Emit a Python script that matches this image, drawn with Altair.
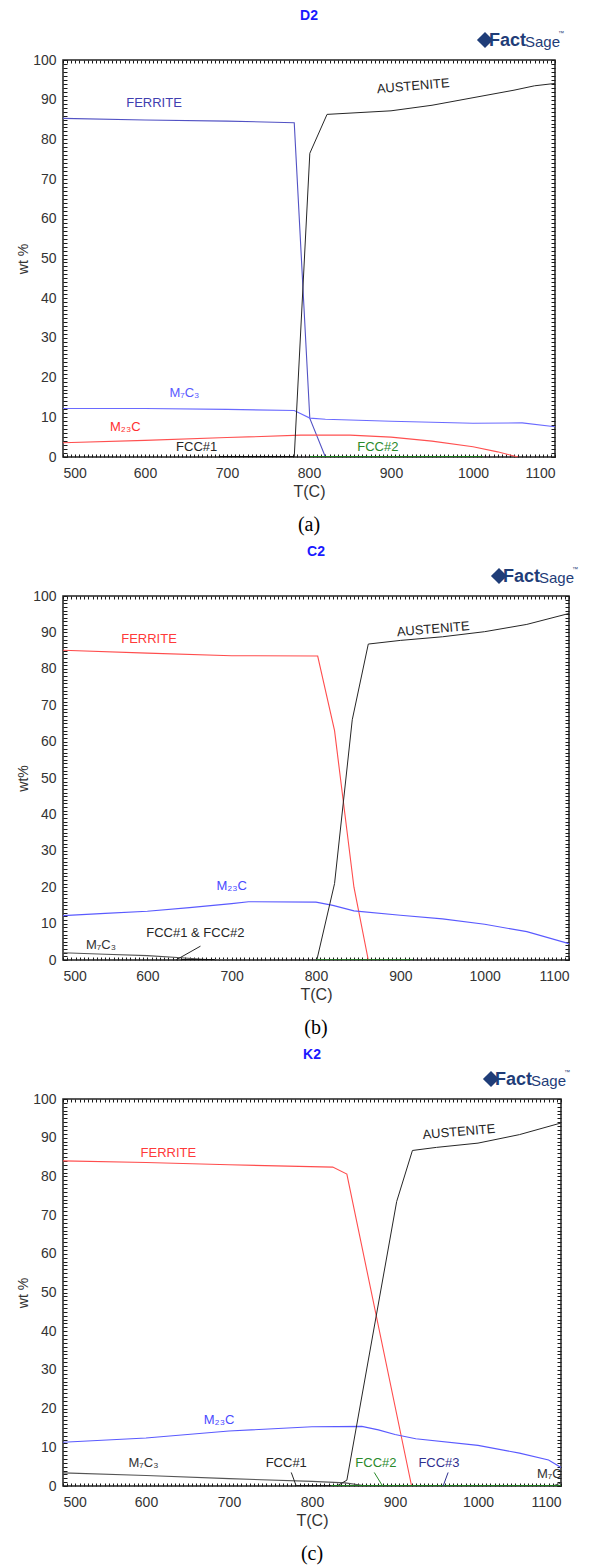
import altair as alt
import pandas as pd

FONT = "Liberation Sans"
X_DOMAIN = [500, 1100]
Y_DOMAIN = [0, 100]
x_tick_values = list(range(500, 1101, 5))     # frame ticks every 5 C, labelled every 100
y_tick_values = list(range(0, 101, 1))        # frame ticks every 1 wt%, labelled every 10

# ---------------- Panel (a) D2 ----------------
a_ferrite_T = [500, 600, 700, 782, 801, 820]
a_ferrite_wt = [85.3, 84.9, 84.6, 84.2, 9.7, 0.0]
a_aust_T = [782, 801, 822, 900, 950, 1000, 1050, 1075, 1100]
a_aust_wt = [0.0, 76.5, 86.3, 87.2, 88.6, 90.5, 92.4, 93.5, 94.1]
a_m7c3_T = [500, 600, 700, 782, 801, 820, 900, 1000, 1060, 1100]
a_m7c3_wt = [12.2, 12.2, 12.0, 11.7, 9.8, 9.5, 9.0, 8.5, 8.6, 7.6]
a_m23c_T = [500, 600, 700, 790, 850, 900, 950, 1000, 1030, 1055]
a_m23c_wt = [3.6, 4.2, 4.9, 5.5, 5.5, 5.0, 4.0, 2.6, 1.3, 0.0]
a_fcc1_T = [690, 782]
a_fcc1_wt = [0.0, 0.0]
a_fcc2_T = [801, 1012]
a_fcc2_wt = [0.0, 0.0]

# ---------------- Panel (b) C2 ----------------
b_ferrite_T = [500, 600, 700, 802, 822, 845, 862]
b_ferrite_wt = [85.1, 84.3, 83.6, 83.5, 63.0, 20.0, 0.0]
b_aust_T = [801, 822, 843, 862, 900, 950, 1000, 1050, 1100]
b_aust_wt = [0.0, 21.0, 66.0, 86.8, 87.8, 88.8, 90.2, 92.2, 95.2]
b_m23c_T = [500, 550, 600, 650, 700, 720, 800, 820, 845, 900, 950, 1000, 1050, 1100]
b_m23c_wt = [12.2, 12.8, 13.4, 14.4, 15.5, 16.0, 15.9, 15.0, 13.5, 12.3, 11.3, 9.8, 7.8, 4.5]
b_m7c3_T = [500, 550, 600, 640, 670, 700]
b_m7c3_wt = [2.0, 1.6, 1.2, 0.6, 0.1, 0.0]
b_fcc1_T = [640, 680]
b_fcc1_wt = [0.0, 0.0]
b_fcc2_T = [800, 915]
b_fcc2_wt = [0.0, 0.0]

# ---------------- Panel (c) K2 ----------------
c_ferrite_T = [500, 600, 700, 825, 842, 920]
c_ferrite_wt = [84.0, 83.6, 83.0, 82.4, 80.6, 0.0]
c_aust_T = [830, 842, 902, 921, 950, 1000, 1050, 1100]
c_aust_wt = [0.0, 1.5, 73.5, 86.7, 87.5, 88.6, 90.8, 93.8]
c_m23c_T = [500, 600, 700, 800, 860, 880, 900, 925, 1000, 1050, 1085, 1100]
c_m23c_wt = [11.3, 12.4, 14.2, 15.3, 15.4, 14.5, 13.3, 12.2, 10.5, 8.5, 6.7, 4.8]
c_m7c3_T = [500, 600, 700, 800, 840, 860, 870]
c_m7c3_wt = [3.4, 2.7, 1.9, 1.2, 0.8, 0.2, 0.0]
c_m7c3b_T = [1090, 1100]
c_m7c3b_wt = [0.0, 0.8]
c_fcc1_T = [780, 830]
c_fcc1_wt = [0.0, 0.0]
c_fcc2_T = [823, 1100]
c_fcc2_wt = [0.0, 0.0]

# labels: (text, T, wt)
a_labels = [("FERRITE", 611, 89.2), ("M₇C₃", 648, 16.0), ("M₂₃C", 576, 7.5),
            ("FCC#1", 663, 2.6), ("FCC#2", 884, 2.6)]
a_rot = [("AUSTENITE", 927, 93.4)]
b_labels = [("FERRITE", 602, 88.2), ("M₂₃C", 700, 20.3), ("M₇C₃", 545, 4.0),
            ("FCC#1 & FCC#2", 657, 7.4)]
b_rot = [("AUSTENITE", 939, 90.9)]
c_labels = [("FERRITE", 627, 86.0), ("M₂₃C", 688, 17.0), ("M₇C₃", 597, 6.0),
            ("FCC#1", 769, 6.0), ("FCC#2", 877, 6.0), ("FCC#3", 953, 6.0)]
c_rot = [("AUSTENITE", 977, 91.5)]
c_clip_labels = [("M₇C₃", 1089, 3.0)]

# leaders: (T, wt, T2, wt2)
b_leaders = [(663, 3.8, 634, 0.0)]
c_leaders = [(775, 3.5, 781, 0.0), (875, 3.5, 885, 0.0), (964, 3.5, 958, 0.0)]

BLACK = "#262626"
panels = [
    dict(title="D2", caption="(a)", ytitle="wt %", w=492, h=397,
         series=[("FERRITE", a_ferrite_T, a_ferrite_wt, "#5252c4", 1.1),
                 ("M7C3", a_m7c3_T, a_m7c3_wt, "#6a6aff", 1.1),
                 ("M23C", a_m23c_T, a_m23c_wt, "#ff5050", 1.1),
                 ("AUSTENITE", a_aust_T, a_aust_wt, BLACK, 1.0),
                 ("FCC1", a_fcc1_T, a_fcc1_wt, "#111111", 2.0),
                 ("FCC2", a_fcc2_T, a_fcc2_wt, "#1e7a1e", 2.0)],
         labels=a_labels, label_colors=["#4040b0", "#5a5aff", "#ff3030", BLACK, "#2a8a2a"],
         rot=a_rot, leaders=[], leader_colors=[], clip_labels=[]),
    dict(title="C2", caption="(b)", ytitle="wt%", w=506, h=364,
         series=[("FERRITE", b_ferrite_T, b_ferrite_wt, "#ff4d4d", 1.1),
                 ("M23C", b_m23c_T, b_m23c_wt, "#5a5aff", 1.1),
                 ("M7C3", b_m7c3_T, b_m7c3_wt, "#555555", 1.1),
                 ("AUSTENITE", b_aust_T, b_aust_wt, BLACK, 1.0),
                 ("FCC1", b_fcc1_T, b_fcc1_wt, "#111111", 2.0),
                 ("FCC2", b_fcc2_T, b_fcc2_wt, "#1e7a1e", 1.5)],
         labels=b_labels, label_colors=["#ff3a3a", "#4a4aff", "#333333", BLACK],
         rot=b_rot, leaders=b_leaders, leader_colors=[BLACK], clip_labels=[]),
    dict(title="K2", caption="(c)", ytitle="wt %", w=498, h=387,
         series=[("FERRITE", c_ferrite_T, c_ferrite_wt, "#ff4d4d", 1.1),
                 ("M23C", c_m23c_T, c_m23c_wt, "#5a5aff", 1.1),
                 ("M7C3", c_m7c3_T, c_m7c3_wt, "#555555", 1.1),
                 ("M7C3b", c_m7c3b_T, c_m7c3b_wt, "#555555", 1.1),
                 ("AUSTENITE", c_aust_T, c_aust_wt, BLACK, 1.0),
                 ("FCC1", c_fcc1_T, c_fcc1_wt, "#111111", 1.5),
                 ("FCC2", c_fcc2_T, c_fcc2_wt, "#1e7a1e", 1.8)],
         labels=c_labels, label_colors=["#ff3a3a", "#4a4aff", "#333333", BLACK, "#2a8a2a", "#303090"],
         rot=c_rot, leaders=c_leaders, leader_colors=[BLACK, "#2a8a2a", "#303090"],
         clip_labels=c_clip_labels),
]

XS = alt.Scale(domain=X_DOMAIN, nice=False, zero=False)
YS = alt.Scale(domain=Y_DOMAIN, nice=False)
TICK_COMMON = dict(ticks=True, tickColor="#1a1a1a", tickWidth=1, domain=False, grid=False)


def make_panel(p):
    w, h = p["w"], p["h"]
    # main (labelled) axes: ticks pulled inside the frame by a negative offset
    X_main = alt.X("T:Q", scale=XS, axis=alt.Axis(
        values=x_tick_values, labelExpr="datum.value % 100 === 0 ? datum.label : ''",
        format="d", labelOverlap=False, tickSize=3, offset=-3, labelPadding=9,
        title="T(C)", titlePadding=3, titleFontSize=16, orient="bottom", **TICK_COMMON))
    Y_main = alt.Y("wt:Q", scale=YS, axis=alt.Axis(
        values=y_tick_values, labelExpr="datum.value % 10 === 0 ? datum.label : ''",
        format="d", labelOverlap=False, tickSize=4, offset=-4, labelPadding=7,
        title=p["ytitle"], titlePadding=2, titleFontSize=14, orient="left", **TICK_COMMON))
    # mirror axes (top / right): ticks only
    X_top = alt.X("T:Q", scale=XS, axis=alt.Axis(
        values=x_tick_values, labels=False, tickSize=3, offset=-3, title=None,
        orient="top", **TICK_COMMON))
    Y_right = alt.Y("wt:Q", scale=YS, axis=alt.Axis(
        values=y_tick_values, labels=False, tickSize=4, offset=-4, title=None,
        orient="right", **TICK_COMMON))
    X = alt.X("T:Q", scale=XS, axis=None)
    Y = alt.Y("wt:Q", scale=YS, axis=None)

    layers = []
    # phase lines
    for k, (name, Ts, Ws, col, sw) in enumerate(p["series"]):
        df = pd.DataFrame({"T": Ts, "wt": Ws, "i": list(range(len(Ts)))})
        if k == 0:
            xe, ye = X_main, Y_main
        elif k == 1:
            xe, ye = X_top, Y_right
        else:
            xe, ye = X, Y
        layers.append(alt.Chart(df).mark_line(color=col, strokeWidth=sw, clip=True)
                      .encode(x=xe, y=ye, order=alt.Order("i:Q")))

    # leaders
    for (t1, w1, t2, w2), col in zip(p["leaders"], p["leader_colors"]):
        df = pd.DataFrame({"T": [t1], "wt": [w1], "T2": [t2], "wt2": [w2]})
        layers.append(alt.Chart(df).mark_rule(color=col, strokeWidth=1)
                      .encode(x=X, y=Y, x2="T2:Q", y2="wt2:Q"))

    # labels
    for (txt, t, wv), col in zip(p["labels"], p["label_colors"]):
        df = pd.DataFrame({"T": [t], "wt": [wv], "label": [txt]})
        layers.append(alt.Chart(df).mark_text(font=FONT, fontSize=13, color=col)
                      .encode(x=X, y=Y, text="label:N"))
    for txt, t, wv in p["rot"]:
        df = pd.DataFrame({"T": [t], "wt": [wv], "label": [txt]})
        layers.append(alt.Chart(df).mark_text(font=FONT, fontSize=13, color=BLACK, angle=355)
                      .encode(x=X, y=Y, text="label:N"))
    for txt, t, wv in p["clip_labels"]:
        df = pd.DataFrame({"T": [t], "wt": [wv], "label": [txt]})
        layers.append(alt.Chart(df).mark_text(font=FONT, fontSize=13, color="#333333", clip=True)
                      .encode(x=X, y=Y, text="label:N"))

    # title, logo, caption
    navy = "#1f3d78"
    layers.append(alt.Chart(pd.DataFrame({"t": [p["title"]]})).mark_text(
        font=FONT, fontSize=14, fontWeight="bold", color="#1a1aff")
        .encode(text="t:N", x=alt.value(w / 2), y=alt.value(-44)))
    layers.append(alt.Chart(pd.DataFrame({"t": ["x"]})).mark_point(
        shape="diamond", filled=True, size=260, color=navy, opacity=1)
        .encode(x=alt.value(w - 70), y=alt.value(-20)))
    layers.append(alt.Chart(pd.DataFrame({"t": ["Fact"]})).mark_text(
        font=FONT, fontSize=18, fontWeight="bold", color=navy, align="left")
        .encode(text="t:N", x=alt.value(w - 66), y=alt.value(-19)))
    layers.append(alt.Chart(pd.DataFrame({"t": ["Sage"]})).mark_text(
        font=FONT, fontSize=15, color=navy, align="left")
        .encode(text="t:N", x=alt.value(w - 30), y=alt.value(-18)))
    layers.append(alt.Chart(pd.DataFrame({"t": ["™"]})).mark_text(
        font=FONT, fontSize=6, color=navy, align="left")
        .encode(text="t:N", x=alt.value(w + 3), y=alt.value(-27)))
    layers.append(alt.Chart(pd.DataFrame({"t": [p["caption"]]})).mark_text(
        font="Liberation Serif", fontSize=20, color="#000000")
        .encode(text="t:N", x=alt.value(w / 2), y=alt.value(h + 68)))

    return alt.layer(*layers).resolve_axis(x="independent", y="independent").properties(
        width=w, height=h)


charts = [make_panel(p) for p in panels]
chart = alt.vconcat(*charts, spacing=139, bounds="flush").resolve_scale(
    x="independent", y="independent"
).properties(
    padding={"left": 7, "top": 0, "right": 0, "bottom": 0}
).configure_view(
    stroke="#222222", strokeWidth=1.5
).configure_axis(
    labelFont=FONT, labelFontSize=14, labelColor="#333333",
    titleFont=FONT, titleFontWeight="normal", titleColor="#333333"
)

chart.save("out.html", embed_options={"renderer": "svg", "actions": False})
